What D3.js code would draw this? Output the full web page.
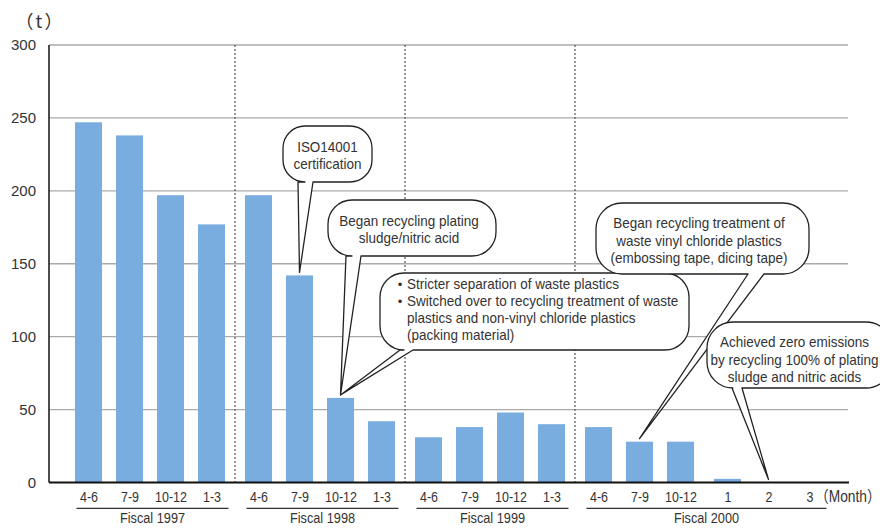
<!DOCTYPE html>
<html>
<head>
<meta charset="utf-8">
<script src="https://cdn.jsdelivr.net/npm/d3@7"></script>
<style>
  html, body { margin: 0; padding: 0; background: #fff; }
  svg { display: block; }
</style>
</head>
<body>
<svg id="chart" width="880" height="528"></svg>
<script>
// ---- data ----
const categories = ["4-6","7-9","10-12","1-3","4-6","7-9","10-12","1-3","4-6","7-9","10-12","1-3","4-6","7-9","10-12","1","2","3"];
const fiscalOfCategory = [0,0,0,0,1,1,1,1,2,2,2,2,3,3,3,3,3,3];
const fiscalLabels = ["Fiscal 1997","Fiscal 1998","Fiscal 1999","Fiscal 2000"];
const emissions = [247,238,197,177,197,142,58,42,31,38,48,40,38,28,28,2.5,0,0];
const yTicks = [0,50,100,150,200,250,300];
const yUnit = "（t）";
const xUnit = "（Month）";
const noteISO = ["ISO14001","certification"];
const noteSludge = ["Began recycling plating","sludge/nitric acid"];
const notePlastics = [["Stricter separation of waste plastics"],["Switched over to recycling treatment of waste","plastics and non-vinyl chloride plastics","(packing material)"]];
const noteVinyl = ["Began recycling treatment of","waste vinyl chloride plastics","(embossing tape, dicing tape)"];
const noteZero = ["Achieved zero emissions","by recycling 100% of plating","sludge and nitric acids"];

// ---- layout ----
const REG = "'Liberation Sans',Arial,sans-serif";
const TXT = "#333";
const SX = 0.83;   // horizontal condensing for axis labels
const NSX = 0.9;   // horizontal condensing for note text
const svg = d3.select("#chart");

function ctext(parent, px, py, str, size, anchor, sx, family) {
  return parent.append("text")
    .attr("transform", `translate(${px},${py}) scale(${sx},1)`)
    .attr("text-anchor", anchor)
    .attr("font-family", family || REG).attr("font-size", size).attr("fill", TXT).text(str);
}

const GAP = 6/41;
let g = 0;
const slots = categories.map((c, i) => {
  if (i > 0 && (fiscalOfCategory[i] !== fiscalOfCategory[i-1] || c.includes("-") !== categories[i-1].includes("-"))) g++;
  return i + g * GAP;
});

const plotLeft = 49, plotRight = 849;
const x = d3.scaleLinear().domain([0, slots[slots.length-1]]).range([88.5, 809.5]);
const y = d3.scaleLinear().domain([0, 300]).range([482.5, 45]);
const barW = 27;

// gridlines
svg.append("g").selectAll("line").data(yTicks.filter(d => d > 0)).join("line")
  .attr("x1", plotLeft).attr("x2", plotRight - 1)
  .attr("y1", d => y(d)).attr("y2", d => y(d))
  .attr("stroke", "#aaa").attr("stroke-width", 1.3);

// group dividers
const dividers = [];
for (let i = 1; i < categories.length; i++) {
  if (fiscalOfCategory[i] !== fiscalOfCategory[i-1]) dividers.push((x(slots[i-1]) + x(slots[i])) / 2);
}
svg.append("g").selectAll("line").data(dividers).join("line")
  .attr("x1", d => d).attr("x2", d => d)
  .attr("y1", y(300)).attr("y2", y(0))
  .attr("stroke", "#555").attr("stroke-width", 1.2).attr("stroke-dasharray", "2,2");

// bars
svg.append("g").selectAll("rect").data(emissions).join("rect")
  .attr("x", (d, i) => x(slots[i]) - barW/2)
  .attr("width", barW)
  .attr("y", d => y(d))
  .attr("height", d => y(0) - y(d))
  .attr("fill", "#7aaddf");

// y axis
const yAxis = svg.append("g").attr("transform", `translate(${plotLeft},0)`)
  .call(d3.axisLeft(y).tickValues(yTicks).tickSize(0).tickPadding(13));
yAxis.select(".domain").remove();
yAxis.selectAll("text").attr("font-family", REG).attr("font-size", 15).attr("fill", TXT);
svg.append("line").attr("x1", plotLeft).attr("x2", plotLeft).attr("y1", y(300)).attr("y2", y(0))
  .attr("stroke", "#111").attr("stroke-width", 1.5);

// x axis
const xAxis = svg.append("g").attr("transform", `translate(0,${y(0)})`)
  .call(d3.axisBottom(x).tickValues(slots).tickFormat((d, i) => categories[i]).tickSize(0).tickPadding(8.5));
xAxis.select(".domain").remove();
xAxis.selectAll("text").attr("font-family", REG).attr("font-size", 15).attr("fill", TXT)
  .attr("transform", `scale(${SX},1)`);
svg.append("line").attr("x1", plotLeft).attr("x2", plotRight).attr("y1", y(0)).attr("y2", y(0))
  .attr("stroke", "#111").attr("stroke-width", 2);

// fiscal groups
fiscalLabels.forEach((lab, k) => {
  const idx = fiscalOfCategory.map((f, i) => f === k ? i : -1).filter(i => i >= 0);
  const x0 = x(slots[idx[0]]) - 12, x1 = x(slots[idx[idx.length-1]]) + 17;
  svg.append("line").attr("x1", x0).attr("x2", x1).attr("y1", 508.3).attr("y2", 508.3)
    .attr("stroke", "#333").attr("stroke-width", 1.2);
  ctext(svg, (x0 + x1) / 2, 523, lab, 15, "middle", 0.85);
});

// unit labels
ctext(svg, 40, 28, yUnit, 18, "middle", 1, "'Noto Sans CJK JP',sans-serif").attr("letter-spacing", 2);
ctext(svg, 815, 502, xUnit, 16, "start", 0.86, REG + ",'Noto Sans CJK JP'");

// callouts
function bubblePath(b, r, tb1, tb2, tip) {
  const [x0, y0, x1, y1] = b;
  return `M${x0+r},${y0} H${x1-r} A${r},${r} 0 0 1 ${x1},${y0+r} V${y1-r} A${r},${r} 0 0 1 ${x1-r},${y1}` +
         ` H${tb2} L${tip[0]},${tip[1]} L${tb1},${y1} H${x0+r} A${r},${r} 0 0 1 ${x0},${y1-r} V${y0+r} A${r},${r} 0 0 1 ${x0+r},${y0} Z`;
}
const tipOf = i => [x(slots[i]), y(emissions[i]) - 3];

const notes = [
  { lines: noteISO, box: [283,126,372,182], r: 22, tail: [298,313], target: 5, tx: 327.5, ty: 151.7 },
  { lines: noteSludge, box: [328,200,496,256], r: 24, tail: [346,361], target: 6, tx: 409, ty: 226 },
  { lines: null, box: [380,273,689,350], r: 24, tail: [400,413], target: 6 },
  { lines: noteVinyl, box: [596,203,809,274], r: 26, tail: [748,764], target: 13, tx: 699, ty: 228.3 },
  { lines: noteZero, box: [707,322,892,388], r: 26, tail: [732,742], target: 16, tx: 794.5, ty: 347.3 }
];
const LH = 17.2;
notes.forEach(n => {
  svg.append("path").attr("d", bubblePath(n.box, n.r, n.tail[0], n.tail[1], tipOf(n.target)))
    .attr("fill", "#fff").attr("stroke", "#222").attr("stroke-width", 1.3).attr("stroke-linejoin", "round");
  if (n.lines) {
    n.lines.forEach((l, k) => ctext(svg, n.tx, n.ty + k * LH, l, 15, "middle", NSX));
  }
});
// bulleted note
let row = 0;
notePlastics.forEach(item => {
  ctext(svg, 400, 289.3 + row * 17, "•", 13, "middle", 1);
  item.forEach(l => {
    ctext(svg, 407, 289.3 + row * 17, l, 15, "start", NSX);
    row++;
  });
});
</script>
</body>
</html>
